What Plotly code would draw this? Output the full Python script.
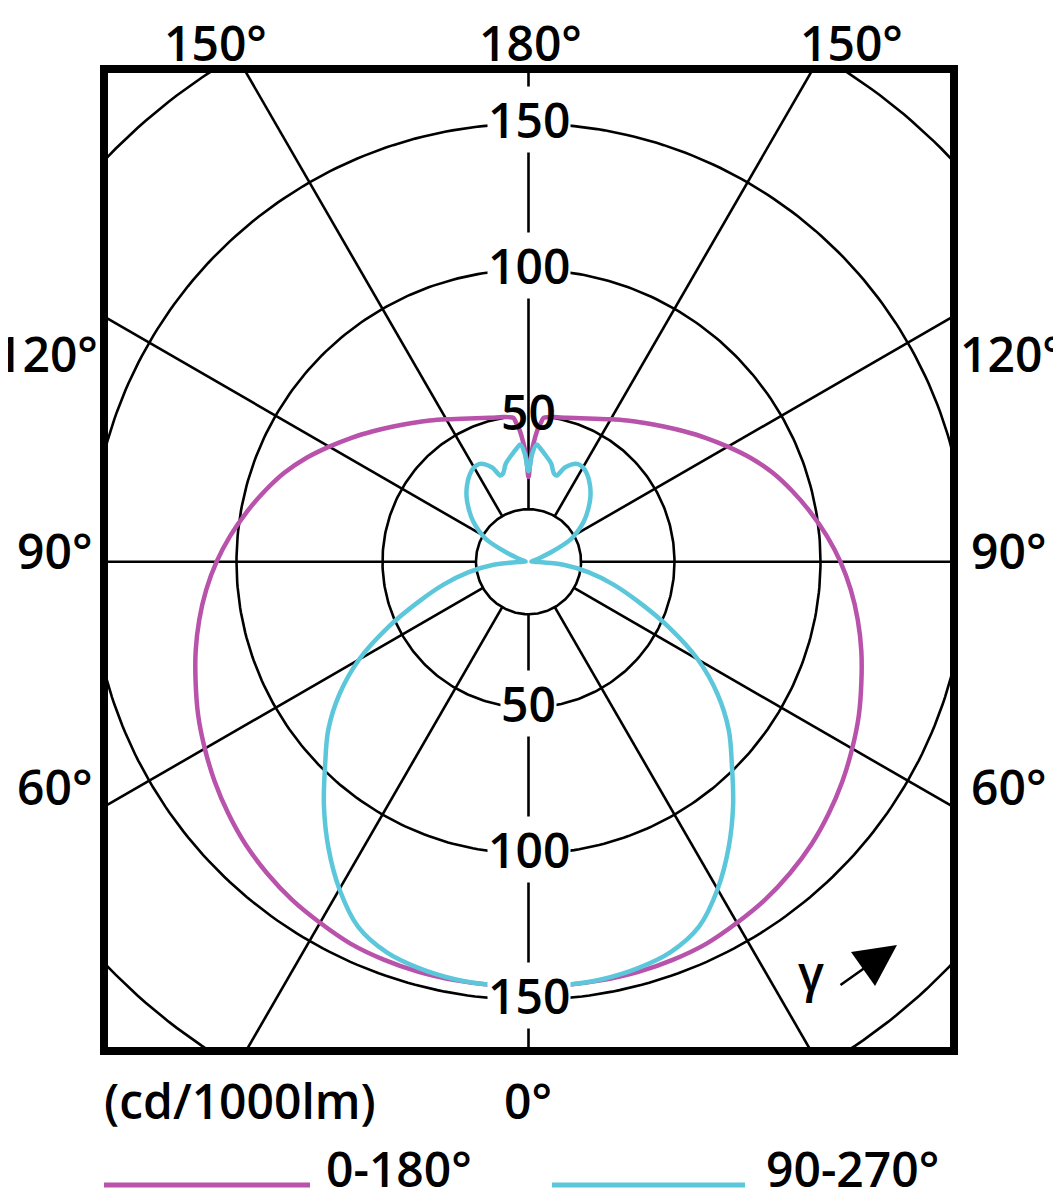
import numpy as np
import plotly.graph_objects as go

# ---------------- data (cd/1000lm) ----------------
# C0-C180 plane (magenta), gamma measured from nadir (0 deg = down)
gamma_c0 = [0, 5, 10, 15, 20, 25, 30, 35, 40, 45, 50, 55, 60, 65, 70, 75, 80, 85, 90,
            95, 100, 105, 110, 115, 120, 125, 130, 135, 140, 145, 150, 155, 160, 165,
            170, 172, 174, 175, 176, 177, 178, 179, 180]
r_c0 = [145.5, 145.5, 145.5, 145.4, 145.0, 144.3, 142.8, 141.3, 139.3, 137.0, 134.2,
        131.2, 128.0, 124.8, 121.3, 118.0, 114.5, 110.8, 106.8,
        102.5, 98.0, 93.5, 89.0, 84.0, 78.8, 74.0, 69.5, 65.5, 62.0, 59.0, 56.3, 54.0,
        52.3, 51.0, 50.3, 50.0, 49.5, 47.5, 45.5, 42.5, 39.0, 34.0, 29.0]

# C90-C270 plane (cyan)
gamma_c90 = [0, 5, 10, 15, 20, 25, 30, 35, 40, 45, 50, 55, 60, 65, 70, 75, 80, 85, 90,
             95, 100, 105, 110, 113, 118, 122, 126, 131, 136, 141, 146, 150, 153, 156,
             159, 162, 164, 167, 171, 174, 176, 178, 180]
r_c90 = [145.5, 145.5, 145.2, 144.2, 142.3, 138.0, 129.5, 119.5, 109.0, 98.5, 89.5,
         79.0, 67.0, 53.0, 40.0, 30.0, 21.0, 12.0, 2.0,
         1.0, 1.5, 2.5, 5.0, 8.7, 16.5, 20.0, 23.4, 27.0, 30.5, 33.5, 36.0, 37.3, 37.5,
         36.5, 34.5, 31.0, 31.5, 34.5, 37.0, 39.0, 40.2, 37.0, 31.0]

grid_radii = [18, 50, 100, 150, 200]
spoke_angles = [0, 30, 60, 90, 120, 150, 180, 210, 240, 270, 300, 330]
radial_labels = [50, 100, 150]
series_names = ["0-180°", "90-270°"]
unit_label = "(cd/1000lm)"

MAGENTA = "#B852AB"
CYAN = "#5CC7DA"
FONT = "Open Sans"
FSIZE = 48
FWEIGHT = 600

# ---------------- geometry ----------------
OFF = 8                 # page body margin of the html page
W, H = 1061 - OFF, 1200 - OFF
# plot frame in page pixels (reference coordinates)
FX0, FX1, FY0, FY1 = 104, 954, 69, 1051
L, T = FX0 - OFF, FY0 - OFF
PW, PH = FX1 - FX0, FY1 - FY0
R, B = W - L - PW, H - T - PH
SCALE = 2.92            # px per cd/1000lm
CX, CY = 528.5, 561.7   # pole position, page px

x_range = [(FX0 - CX) / SCALE, (FX1 - CX) / SCALE]
y_range = [-(FY1 - CY) / SCALE, (CY - FY0) / SCALE]


def px(x):
    return (x - FX0) / PW


def py(y):
    return (FY1 - y) / PH


def curve_xy(gam, rad):
    g = np.radians(np.array(gam, dtype=float))
    r = np.array(rad, dtype=float)
    x = np.concatenate([-r[::-1] * np.sin(g[::-1]), r * np.sin(g)])
    y = np.concatenate([-r[::-1] * np.cos(g[::-1]), -r * np.cos(g)])
    return x, y


fig = go.Figure()

# grid circles
cx_all, cy_all = [], []
for rr in grid_radii:
    th = np.radians(np.arange(0, 361, 1.0))
    xs = rr * np.sin(th)
    ys = -rr * np.cos(th)
    if rr == 50:
        gap = np.abs(np.degrees(th) - 180) < 9
        xs = np.where(gap, np.nan, xs)
        ys = np.where(gap, np.nan, ys)
    cx_all += list(xs) + [None]
    cy_all += list(ys) + [None]
fig.add_trace(go.Scatter(x=cx_all, y=cy_all, mode="lines",
                         line=dict(color="black", width=2.6),
                         hoverinfo="skip", showlegend=False))

# spokes
sx, sy = [], []
for a in spoke_angles:
    t = np.radians(a)
    sx += [grid_radii[0] * np.sin(t), 400 * np.sin(t), None]
    sy += [-grid_radii[0] * np.cos(t), -400 * np.cos(t), None]
fig.add_trace(go.Scatter(x=sx, y=sy, mode="lines",
                         line=dict(color="black", width=2.6),
                         hoverinfo="skip", showlegend=False))

# curves
xm, ym = curve_xy(gamma_c0, r_c0)
fig.add_trace(go.Scatter(x=xm, y=ym, mode="lines", name=series_names[0],
                         line=dict(color=MAGENTA, width=4.5, shape="spline", smoothing=1.0),
                         showlegend=False))
xc, yc = curve_xy(gamma_c90, r_c90)
fig.add_trace(go.Scatter(x=xc, y=yc, mode="lines", name=series_names[1],
                         line=dict(color=CYAN, width=4.5, shape="spline", smoothing=1.0),
                         showlegend=False))

font = dict(family=FONT, size=FSIZE, color="black", weight=FWEIGHT)
annotations = []
# radial value labels
for v in radial_labels:
    for sgn in (1, -1):
        top50 = (v == 50 and sgn == 1)
        annotations.append(dict(
            x=0, y=sgn * v, xref="x", yref="y", text=str(v), showarrow=False,
            font=font, yshift=4,
            bgcolor="rgba(0,0,0,0)" if top50 else "white", borderpad=0,
            xanchor="center", yanchor="middle"))

# angle labels around the frame
angle_texts = [
    ("150°", 215, 43, "center"), ("180°", 530, 43, "center"), ("150°", 851, 43, "center"),
    ("120°", 99, 356, "right"), ("90°", 93, 553, "right"), ("60°", 93, 789, "right"),
    ("120°", 959, 356, "left"), ("90°", 970, 553, "left"), ("60°", 970, 789, "left"),
    ("0°", 528, 1103, "center"),
]
for txt, xx, yy, anc in angle_texts:
    annotations.append(dict(x=px(xx), y=py(yy), xref="paper", yref="paper", text=txt,
                            showarrow=False, xanchor=anc, yanchor="middle", borderpad=0,
                            yshift=0 if yy < 50 else 3, font=font))

annotations.append(dict(x=px(240), y=py(1103), xref="paper", yref="paper", text=unit_label,
                        showarrow=False, xanchor="center", yanchor="middle", yshift=3,
                        font=font))

# legend texts
annotations.append(dict(x=px(325), y=py(1168), xref="paper", yref="paper", text=series_names[0],
                        showarrow=False, xanchor="left", yanchor="middle", borderpad=0,
                        font=font))
annotations.append(dict(x=px(765), y=py(1168), xref="paper", yref="paper", text=series_names[1],
                        showarrow=False, xanchor="left", yanchor="middle", borderpad=0,
                        font=font))

# gamma marker and arrow
annotations.append(dict(x=px(811), y=py(972), xref="paper", yref="paper", text="γ",
                        showarrow=False, xanchor="center", yanchor="middle",
                        font=dict(family=FONT, size=48, color="black", weight=FWEIGHT)))
annotations.append(dict(x=px(897), y=py(945), xref="paper", yref="paper", text="",
                        showarrow=True, ax=-58, ay=41, axref="pixel", ayref="pixel",
                        arrowhead=2, arrowsize=3.2, arrowwidth=2.6, arrowcolor="black"))

shapes = [
    dict(type="rect", xref="paper", yref="paper", x0=0, y0=0, x1=1, y1=1,
         line=dict(color="black", width=8), layer="above"),
    dict(type="line", xref="paper", yref="paper", x0=px(104), x1=px(310), y0=py(1185), y1=py(1185),
         line=dict(color=MAGENTA, width=5)),
    dict(type="line", xref="paper", yref="paper", x0=px(552), x1=px(745), y0=py(1185), y1=py(1185),
         line=dict(color=CYAN, width=5)),
]

fig.update_layout(
    width=W, height=H,
    margin=dict(l=L, r=R, t=T, b=B),
    paper_bgcolor="white", plot_bgcolor="white",
    xaxis=dict(range=x_range, visible=False, fixedrange=True),
    yaxis=dict(range=y_range, visible=False, fixedrange=True),
    annotations=annotations, shapes=shapes, showlegend=False,
)

fig.write_html("out.html")
